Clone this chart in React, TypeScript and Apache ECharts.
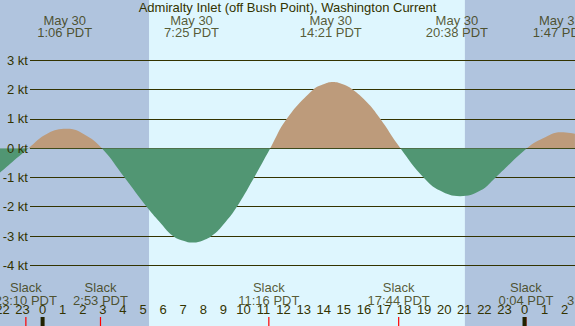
import React, { useEffect, useRef } from "react";
import * as echarts from "echarts";

// ---- data (hours relative to May 30 00:00 PDT) ----
const curveTimes = [-2.13, -0.7, 0.25, 1.2, 2.08, 2.95, 4.08, 5.18, 5.82, 6.46, 7.01, 7.46, 7.92, 8.51, 9.11, 9.65, 10.47, 11.34, 12.16, 13.43, 13.95, 14.46, 14.95, 15.4, 16.14, 16.77, 17.82, 18.97, 19.79, 20.79, 21.8, 22.56, 24.12, 24.9, 25.82, 26.51];
const curveValues = [-0.84, 0, 0.5, 0.66, 0.47, 0, -1, -2, -2.51, -2.98, -3.16, -3.22, -3.17, -2.95, -2.52, -2.03, -1.08, 0, 1, 1.97, 2.17, 2.26, 2.18, 2.02, 1.58, 1.05, 0, -1, -1.45, -1.64, -1.45, -1, 0, 0.33, 0.545, 0.49];

const extremaTimes = [1.1, 7.417, 14.35, 20.633, 25.783];
const extremaLabels = ["May 30\n1:06 PDT", "May 30\n7:25 PDT", "May 30\n14:21 PDT", "May 30\n20:38 PDT", "May 31\n1:47 PDT"];

const slackTimes = [-0.833, 2.883, 11.267, 17.733, 24.067, 27.48];
const slackLabels = ["Slack\n23:10 PDT", "Slack\n2:53 PDT", "Slack\n11:16 PDT", "Slack\n17:44 PDT", "Slack\n0:04 PDT", "Slack\n3:29 PDT"];

const midnights = [0, 24];
const nightStarts = [-3, 21.03];
const nightEnds = [5.3, 27];

const TITLE = "Admiralty Inlet (off Bush Point), Washington Current";

// ---- styles ----
const DAY = "#DEF6FE";
const NIGHT = "#B0C4DE";
const TAN = "#BD9B7B";
const GREEN = "#519673";
const INK = "#333300";
const FONT = "Liberation Sans";

const X_MIN = -3;
const X_MAX = 27;
const GRID_LEFT = -17.64;
const GRID_RIGHT = -9.76;
const FULL_H = 326;
const PLOT_TOP = 60.3;
const KT_PX = 205 / 7;
const Y_MIN = -4;
const Y_MAX = 3;

export default function App() {
  const ref = useRef<HTMLDivElement>(null);

  useEffect(() => {
    if (!ref.current) return;
    const chart = echarts.init(ref.current, undefined, { renderer: "svg" });

    const curve = curveTimes.map((t, i) => [t, curveValues[i]]);
    const zeroY = PLOT_TOP + Y_MAX * KT_PX;
    const g = (o: any) => ({ outerBoundsMode: "none", containLabel: false, ...o });
    const areaSeries = (xi: number, yi: number, color: string) => ({
      type: "line",
      xAxisIndex: xi,
      yAxisIndex: yi,
      z: 2,
      smooth: 0.45,
      symbol: "none",
      silent: true,
      clip: true,
      lineStyle: { width: 0, color },
      itemStyle: { color },
      areaStyle: { opacity: 1, color, origin: 0 },
      data: curve,
    });

    const option: any = {
      animation: false,
      backgroundColor: DAY,
      textStyle: { fontFamily: FONT },
      title: {
        text: TITLE,
        left: "center",
        top: 1,
        padding: 0,
        textStyle: { fontFamily: FONT, fontSize: 13, fontWeight: "normal", color: INK },
      },
      grid: [
        g({ left: GRID_LEFT, right: GRID_RIGHT, top: PLOT_TOP, height: Y_MAX * KT_PX }),
        g({ left: GRID_LEFT, right: GRID_RIGHT, top: zeroY, height: -Y_MIN * KT_PX }),
        g({ left: 30, right: 0, top: PLOT_TOP, height: (Y_MAX - Y_MIN) * KT_PX }),
        g({ left: GRID_LEFT, right: GRID_RIGHT, top: 0, bottom: 0 }),
        g({ left: GRID_LEFT, right: GRID_RIGHT, top: 317, bottom: 0 }),
      ],
      xAxis: [
        { gridIndex: 0, type: "value", min: X_MIN, max: X_MAX, show: false },
        { gridIndex: 1, type: "value", min: X_MIN, max: X_MAX, show: false },
        { gridIndex: 2, type: "value", min: 0, max: 1, show: false },
        { gridIndex: 3, type: "value", min: X_MIN, max: X_MAX, show: false },
        {
          gridIndex: 4,
          type: "value",
          position: "top",
          min: X_MIN,
          max: X_MAX,
          interval: 1,
          axisLine: { show: false },
          axisTick: { show: true, inside: true, length: 9, lineStyle: { color: INK, width: 1 } },
          axisLabel: {
            margin: 1,
            fontSize: 13,
            color: INK,
            fontFamily: FONT,
            showMinLabel: true,
            showMaxLabel: true,
            formatter: (v: number) => String(((v % 24) + 24) % 24),
          },
          splitLine: { show: false },
        },
      ],
      yAxis: [
        { gridIndex: 0, type: "value", min: 0, max: Y_MAX, show: false },
        { gridIndex: 1, type: "value", min: Y_MIN, max: 0, show: false },
        {
          gridIndex: 2,
          type: "value",
          position: "right",
          min: Y_MIN,
          max: Y_MAX,
          interval: 1,
          axisLine: { show: false },
          axisTick: { show: false },
          axisLabel: { show: false },
          splitLine: { show: true, lineStyle: { color: INK, width: 1 } },
        },
        {
          gridIndex: 2,
          type: "value",
          position: "left",
          min: Y_MIN,
          max: Y_MAX,
          interval: 1,
          z: 10,
          axisLine: { show: false },
          axisTick: { show: false },
          splitLine: { show: false },
          axisLabel: {
            margin: 2,
            fontSize: 13,
            color: INK,
            fontFamily: FONT,
            formatter: (v: number) => `${v} kt`,
          },
        },
        { gridIndex: 3, type: "value", min: 0, max: FULL_H, inverse: true, show: false },
        { gridIndex: 4, type: "value", min: 0, max: 1, show: false },
      ],
      series: [
        {
          type: "custom",
          xAxisIndex: 3,
          yAxisIndex: 4,
          z: -5,
          silent: true,
          data: nightStarts.map((s, i) => [s, nightEnds[i]]),
          encode: { x: [0, 1] },
          renderItem: (params: any, api: any) => {
            const a = api.coord([api.value(0), 0]);
            const b = api.coord([api.value(1), FULL_H]);
            return {
              type: "rect",
              shape: { x: a[0], y: a[1], width: b[0] - a[0], height: b[1] - a[1] },
              style: { fill: NIGHT },
            };
          },
        },
        areaSeries(0, 0, TAN),
        areaSeries(1, 1, GREEN),
        {
          type: "custom",
          xAxisIndex: 4,
          yAxisIndex: 5,
          z: 4,
          silent: true,
          data: slackTimes.map((t) => [t]),
          renderItem: (params: any, api: any) => {
            const top = api.coord([api.value(0), 1]);
            const bot = api.coord([api.value(0), 0]);
            return {
              type: "rect",
              shape: { x: top[0] - 0.6, y: top[1], width: 1.2, height: bot[1] - top[1] },
              style: { fill: "#FF0000" },
            };
          },
        },
        {
          type: "custom",
          xAxisIndex: 4,
          yAxisIndex: 5,
          z: 4,
          silent: true,
          data: midnights.map((t) => [t]),
          renderItem: (params: any, api: any) => {
            const top = api.coord([api.value(0), 1]);
            const bot = api.coord([api.value(0), 0]);
            return {
              type: "rect",
              shape: { x: top[0] - 2, y: top[1], width: 4, height: bot[1] - top[1] },
              style: { fill: "#222200" },
            };
          },
        },
        {
          type: "scatter",
          xAxisIndex: 3,
          yAxisIndex: 4,
          z: 5,
          clip: false,
          silent: true,
          symbolSize: 0,
          data: extremaTimes.map((t) => [t, 26]),
          label: {
            show: true,
            position: "inside",
            fontSize: 13,
            lineHeight: 12,
            color: INK,
            fontFamily: FONT,
            align: "center",
            formatter: (p: any) => extremaLabels[p.dataIndex],
          },
        },
        {
          type: "scatter",
          xAxisIndex: 3,
          yAxisIndex: 4,
          z: 5,
          clip: false,
          silent: true,
          symbolSize: 0,
          data: slackTimes.map((t) => [t, 294]),
          label: {
            show: true,
            position: "inside",
            fontSize: 13,
            lineHeight: 12.3,
            color: INK,
            fontFamily: FONT,
            align: "center",
            formatter: (p: any) => slackLabels[p.dataIndex],
          },
        },
      ],
    };

    chart.setOption(option);
    return () => chart.dispose();
  }, []);

  return (
    <div
      ref={ref}
      style={{ position: "fixed", left: 0, top: 0, width: 575, height: 326 }}
    />
  );
}
